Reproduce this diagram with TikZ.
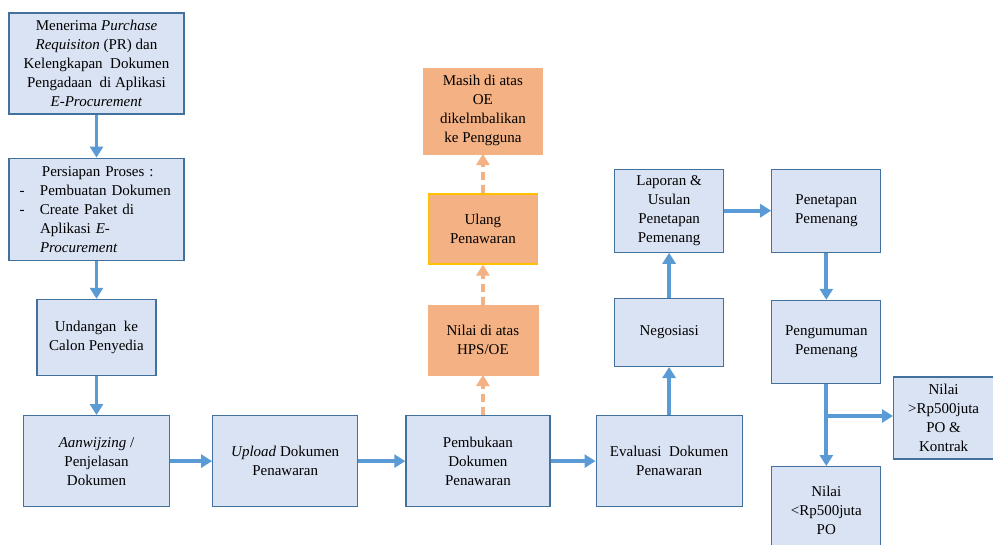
\documentclass[tikz,border=0pt]{standalone}
\usepackage{fontspec}
\setmainfont{Liberation Serif}
\usepackage{tikz}
\usepackage{xcolor}
\usetikzlibrary{positioning,arrows.meta}

\definecolor{isibiru}{HTML}{DAE3F3}
\definecolor{garisbiru}{HTML}{41719C}
\definecolor{panahbiru}{HTML}{5B9BD5}
\definecolor{isioranye}{HTML}{F4B183}
\definecolor{garisemas}{HTML}{FFC000}

\newcommand{\butir}{\makebox[22.5pt][l]{\hspace*{2pt}-}}
\newcommand{\lanjut}{\hspace*{22.5pt}}

\begin{document}
\begin{tikzpicture}[
    x=1pt, y=-1pt,
    font=\fontsize{15}{19}\selectfont,
    box/.style={draw=garisbiru, line width=1.2pt, fill=isibiru, align=center, inner sep=4pt},
    oranye/.style={draw=isioranye, fill=isioranye, align=center, inner sep=4pt},
    arrow/.style={-{Triangle[length=11pt,width=13pt]}, line width=3.8pt, draw=panahbiru},
    dasharrow/.style={-{Triangle[length=11pt,width=13pt]}, line width=3.8pt, draw=isioranye, dash pattern=on 8pt off 5pt}
  ]
    \useasboundingbox (0,0) rectangle (993,544);

    \node[box, minimum width=175pt, minimum height=101pt] (pr) at (96.5,63.5)
      {Menerima \textit{Purchase}\\\textit{Requisiton} (PR) dan\\Kelengkapan\ \ Dokumen\\Pengadaan\ \ di Aplikasi\\\textit{E-Procurement}};
    \node[box, minimum width=175pt, minimum height=102pt, text width=158pt, inner xsep=8.5pt, align=left, below=43pt of pr] (persiapan)
      {\hspace*{24.5pt}Persiapan Proses :\\\butir Pembuatan Dokumen\\\butir Create Paket di\\\lanjut Aplikasi \textit{E-}\\\lanjut\textit{Procurement}};
    \node[box, minimum width=119pt, minimum height=76pt, below=38pt of persiapan] (undangan) {Undangan\ \ ke\\Calon Penyedia};
    \node[box, minimum width=146pt, minimum height=91pt, below=39pt of undangan] (aanwijzing) {\textit{Aanwijzing} /\\Penjelasan\\Dokumen};
    \node[box, minimum width=145pt, minimum height=91pt, right=42pt of aanwijzing] (upload) {\textit{Upload} Dokumen\\Penawaran};
    \node[box, minimum width=144pt, minimum height=91pt, right=47pt of upload] (pembukaan) {Pembukaan\\Dokumen\\Penawaran};
    \node[box, minimum width=146pt, minimum height=91pt, right=45pt of pembukaan] (evaluasi) {Evaluasi\ \ Dokumen\\Penawaran};
    \node[box, minimum width=109pt, minimum height=68pt, above=48pt of evaluasi] (negosiasi) {Negosiasi};
    \node[box, minimum width=109pt, minimum height=83pt, above=45pt of negosiasi] (laporan) {Laporan \&\\Usulan\\Penetapan\\Pemenang};
    \node[box, minimum width=109pt, minimum height=83pt, right=47pt of laporan] (penetapan) {Penetapan\\Pemenang};
    \node[box, minimum width=109pt, minimum height=83pt, below=47pt of penetapan] (pengumuman) {Pengumuman\\Pemenang};
    \node[box, minimum width=109pt, minimum height=88pt, below=82pt of pengumuman] (nilaikecil) {Nilai\\<Rp500juta\\PO};
    \node[box, minimum width=100pt, minimum height=82pt, anchor=west] (nilaibesar) at (893,418) {Nilai\\>Rp500juta\\PO \&\\Kontrak};

    \node[oranye, minimum width=110pt, minimum height=70pt, above=40pt of pembukaan, xshift=5pt] (hps) {Nilai di atas\\HPS/OE};
    \node[oranye, draw=garisemas, line width=1.6pt, minimum width=109pt, minimum height=70pt, above=40pt of hps] (ulang) {Ulang\\Penawaran};
    \node[oranye, minimum width=119pt, minimum height=86pt, above=39pt of ulang] (masih) {Masih di atas\\OE\\dikelmbalikan\\ke Pengguna};

    \coordinate (cabang) at (pengumuman.south |- 0,416);

    \draw[arrow] (pr) -- (persiapan);
    \draw[arrow] (persiapan) -- (undangan);
    \draw[arrow] (undangan) -- (aanwijzing);
    \draw[arrow] (aanwijzing) -- (upload);
    \draw[arrow] (upload) -- (pembukaan);
    \draw[arrow] (pembukaan) -- (evaluasi);
    \draw[arrow] (evaluasi) -- (negosiasi);
    \draw[arrow] (negosiasi) -- (laporan);
    \draw[arrow] (laporan) -- (penetapan);
    \draw[arrow] (penetapan) -- (pengumuman);
    \draw[arrow] (pengumuman) -- (nilaikecil);
    \draw[arrow] (cabang) -- (nilaibesar.west |- cabang);
    \draw[dasharrow] (pembukaan.north -| hps) -- (hps);
    \draw[dasharrow] (hps) -- (ulang);
    \draw[dasharrow] (ulang) -- (masih);
  \end{tikzpicture}
\end{document}
